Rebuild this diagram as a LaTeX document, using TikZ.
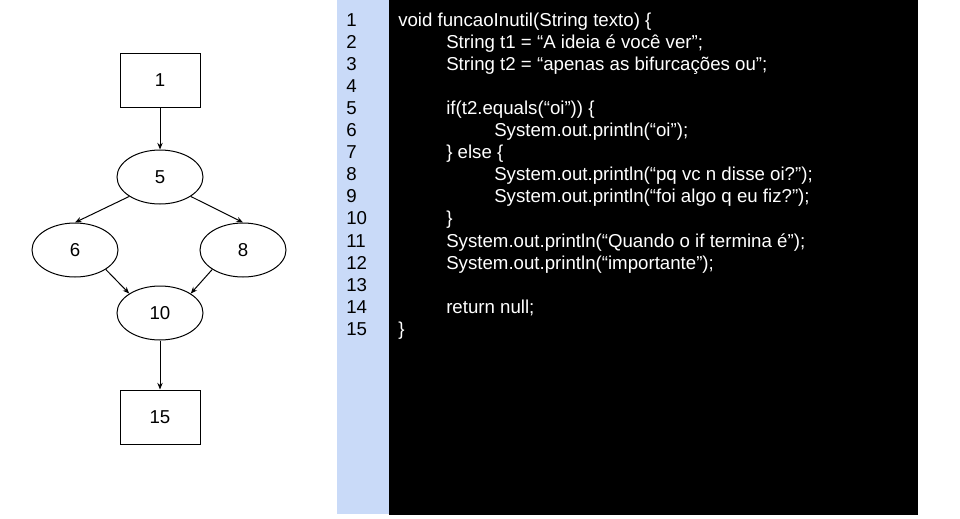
\documentclass[tikz,border=0pt]{standalone}
\usepackage{fontspec}
\setmainfont{Liberation Sans}
\usetikzlibrary{shapes.geometric,arrows.meta}
\definecolor{gutter}{RGB}{201,218,248}
\begin{document}
\begin{tikzpicture}[x=0.75pt,y=-0.75pt,
  every node/.style={font=\fontsize{14pt}{16.6pt}\selectfont},
  boxnode/.style={draw,line width=0.75pt,minimum width=60pt,minimum height=40.5pt,inner sep=0pt},
  ellnode/.style={draw,ellipse,line width=0.75pt,minimum width=64.5pt,minimum height=40.5pt,inner sep=0pt},
  flow/.style={line width=0.75pt,-{Stealth[length=5pt,width=4pt]}},
  codeline/.style={text=white,anchor=base west,inner sep=0pt},
  lineno/.style={text=black,anchor=base west,inner sep=0pt}]
\fill[white] (0,0) rectangle (960,518);
\useasboundingbox (0,0) rectangle (960,518);
% panels
\fill[gutter] (337,0) rectangle (389,514);
\fill[black] (389,0) rectangle (918,515);
% graph
\node[boxnode] (b1) at (160,80) {1};
\node[ellnode] (e5) at (160,177) {5};
\node[ellnode] (e6) at (75,250) {6};
\node[ellnode] (e8) at (243,250) {8};
\node[ellnode] (e10) at (160,313) {10};
\node[boxnode] (b15) at (160,417) {15};
\draw[flow] (b1) -- (e5);
\draw[flow] (e5.south west) -- (e6.north);
\draw[flow] (e5.south east) -- (e8.north);
\draw[flow] (e6.south east) -- (e10.north west);
\draw[flow] (e8.south west) -- (e10.north east);
\draw[flow] (e10) -- (b15);
% line numbers
\foreach \i in {1,...,15}
  \node[lineno] (n\i) at (346,{26+(\i-1)*22.1}) {\i};
% code
\node[codeline] (c1) at (398,{26+0*22.1}) {void funcaoInutil(String texto) \{};
\node[codeline] (c2) at (446,{26+1*22.1}) {String t1 = “A ideia é você ver”;};
\node[codeline] (c3) at (446,{26+2*22.1}) {String t2 = “apenas as bifurcações ou”;};
\node[codeline] (c5) at (446,{26+4*22.1}) {if(t2.equals(“oi”)) \{};
\node[codeline] (c6) at (494,{26+5*22.1}) {System.out.println(“oi”);};
\node[codeline] (c7) at (446,{26+6*22.1}) {\} else \{};
\node[codeline] (c8) at (494,{26+7*22.1}) {System.out.println(“pq vc n disse oi?”);};
\node[codeline] (c9) at (494,{26+8*22.1}) {System.out.println(“foi algo q eu fiz?”);};
\node[codeline] (c10) at (446,{26+9*22.1}) {\}};
\node[codeline] (c11) at (446,{26+10*22.1}) {System.out.println(“Quando o if termina é”);};
\node[codeline] (c12) at (446,{26+11*22.1}) {System.out.println(“importante”);};
\node[codeline] (c14) at (446,{26+13*22.1}) {return null;};
\node[codeline] (c15) at (398,{26+14*22.1}) {\}};
\end{tikzpicture}
\end{document}
